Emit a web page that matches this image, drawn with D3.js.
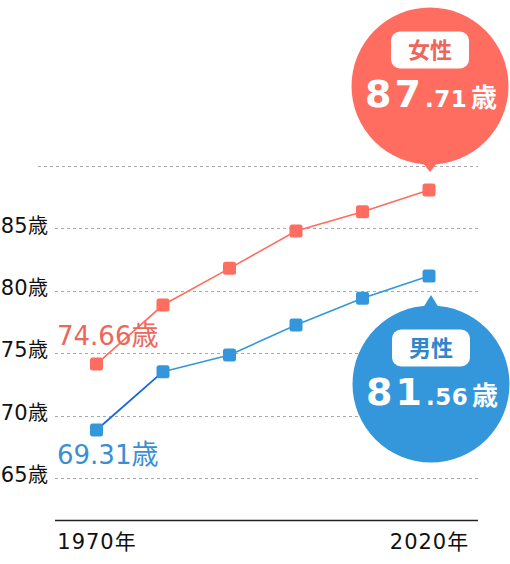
<!DOCTYPE html>
<html lang="ja">
<head>
<meta charset="utf-8">
<script src="https://cdn.jsdelivr.net/npm/d3@7"></script>
<style>
  html, body { margin: 0; padding: 0; background: #fff; }
  svg { display: block; font-family: "DejaVu Sans", "Noto Sans CJK JP", sans-serif; }
</style>
</head>
<body>
<svg id="chart" width="510" height="564" viewBox="0 0 510 564"></svg>
<script>
// data
const years = [1970, 1980, 1990, 2000, 2010, 2020];
const female = [74.13, 78.86, 81.8, 84.79, 86.34, 88.08];
const male = [68.85, 73.52, 74.86, 77.26, 79.4, 81.19];
const yTicks = [65, 70, 75, 80, 85];
const gridTop = 90;
const xTicks = [1970, 2020];
const startLabels = { female: "74.66", male: "69.31" };
const endLabels = {
    female: { name: "女性", big: "87", small: ".71" },
    male: { name: "男性", big: "81", small: ".56" }
};

(function () {
    const svg = d3.select("#chart");
    const RED = "#ff6c60";
    const BLUE = "#3497db";
    const NUM = "\"DejaVu Sans\", \"Noto Sans CJK JP\", sans-serif";
    const CJK = "\"Noto Sans CJK JP\", sans-serif";

    const x = d3.scaleLinear().domain([1970, 2020]).range([96.5, 429]);
    const y = d3.scaleLinear().domain([65, 90]).range([478, 166]);

    // === grid ===
    const grid = svg.append("g").attr("class", "grid");
    grid.selectAll("line")
        .data(yTicks.concat([gridTop]))
        .join("line")
        .attr("x1", d => d === gridTop ? 38 : 55)
        .attr("x2", 478)
        .attr("y1", d => Math.round(y(d)) + 0.5)
        .attr("y2", d => Math.round(y(d)) + 0.5)
        .attr("stroke", "#a8a8a8")
        .attr("stroke-width", 1)
        .attr("stroke-dasharray", "3,3");

    // y labels
    const yAxis = svg.append("g")
        .attr("transform", "translate(48,0)")
        .call(d3.axisLeft(y).tickValues(yTicks).tickSize(0).tickPadding(0).tickFormat(""));
    yAxis.select(".domain").remove();
    yAxis.selectAll(".tick text").each(function (d) {
        const t = d3.select(this).attr("fill", "#111").attr("dy", "0.36em");
        t.append("tspan").style("font-size", "21px").style("letter-spacing", "0.3px").style("font-family", NUM).text(d);
        t.append("tspan").style("font-size", "20px").style("font-family", CJK).text("歳");
    });

    // x axis
    const xAxis = svg.append("g")
        .attr("transform", "translate(0,520.5)")
        .call(d3.axisBottom(x).tickValues(xTicks).tickSize(0).tickPadding(14).tickFormat(d => d + "年"));
    xAxis.select(".domain").remove();
    xAxis.append("line")
        .attr("x1", 55).attr("x2", 478)
        .attr("stroke", "#222").attr("stroke-width", 1.6);
    xAxis.selectAll("text")
        .attr("fill", "#111")
        .style("font-size", "21px")
        .style("letter-spacing", "1px")
        .style("font-family", NUM);

    // === lines ===
    const line = d3.line().x(d => x(d[0])).y(d => y(d[1]));
    const femPts = years.map((yr, i) => [yr, female[i]]);
    const malePts = years.map((yr, i) => [yr, male[i]]);

    svg.append("path").datum(femPts)
        .attr("d", line).attr("fill", "none")
        .attr("stroke", RED).attr("stroke-width", 1.6);

    svg.append("path").datum(malePts.slice(1))
        .attr("d", line).attr("fill", "none")
        .attr("stroke", BLUE).attr("stroke-width", 1.6);
    svg.append("path").datum(malePts.slice(0, 2))
        .attr("d", line).attr("fill", "none")
        .attr("stroke", "#1565e6").attr("stroke-width", 1.8);

    // start labels (with white halo over the line)
    function startLabel(txt, px, py, color) {
        const t = svg.append("text")
            .attr("x", px).attr("y", py)
            .attr("fill", color);
        t.append("tspan").style("font-size", "26px").style("font-family", NUM).text(txt);
        t.append("tspan").style("font-size", "27px").style("font-family", CJK).text("歳");
        return t;
    }
    const fl = startLabel(startLabels.female, 57, 345, "#ec665a");
    fl.clone(true).lower().attr("fill", "#fff").attr("stroke", "#fff").attr("stroke-width", 5).attr("stroke-linejoin", "round");
    fl.raise();
    startLabel(startLabels.male, 57, 464, "#3a8fd3");

    // === markers ===
    function markers(pts, color) {
        svg.append("g").selectAll("rect")
            .data(pts)
            .join("rect")
            .attr("x", d => x(d[0]) - 6.5)
            .attr("y", d => y(d[1]) - 6.5)
            .attr("width", 13).attr("height", 13)
            .attr("rx", 2.5)
            .attr("fill", color);
    }
    markers(femPts, RED);
    markers(malePts, BLUE);

    // === end bubbles ===
    function bubble(cx, cy, tipY, color, lab, textColor) {
        const g = svg.append("g");
        const r = 78.5;
        const dir = tipY > cy ? 1 : -1;
        const baseY = cy + dir * (r - 4);
        g.append("path")
            .attr("d", `M${cx - 9},${baseY} L${cx},${tipY} L${cx + 9},${baseY} Z`)
            .attr("fill", color);
        g.append("circle").attr("cx", cx).attr("cy", cy).attr("r", r).attr("fill", color);

        const pillY = cy - 36;
        g.append("rect")
            .attr("x", cx - 39).attr("y", pillY - 18.5)
            .attr("width", 78).attr("height", 37)
            .attr("rx", 9)
            .attr("fill", "#fff");
        g.append("text")
            .attr("x", cx).attr("y", pillY)
            .attr("dy", "0.36em")
            .attr("text-anchor", "middle")
            .attr("fill", textColor)
            .style("font-family", CJK)
            .style("font-size", "22px")
            .style("font-weight", 700)
            .text(lab.name);

        const base = cy + 21;
        const t = g.append("text")
            .attr("y", base)
            .attr("fill", "#fff")
            .style("font-weight", 700);
        t.append("tspan").attr("x", cx - 65).style("font-family", NUM).style("font-size", "38px").style("letter-spacing", "3px").text(lab.big);
        t.append("tspan").attr("x", cx - 5).style("font-family", NUM).style("font-size", "23px").style("letter-spacing", "0.5px").text(lab.small);
        t.append("tspan").attr("x", cx + 41).style("font-family", CJK).style("font-size", "26px").text("歳");
    }
    bubble(430, 86, 172, RED, endLabels.female, "#ec665a");
    bubble(431, 384, 295, BLUE, endLabels.male, "#2f86cc");
})();
</script>
</body>
</html>
